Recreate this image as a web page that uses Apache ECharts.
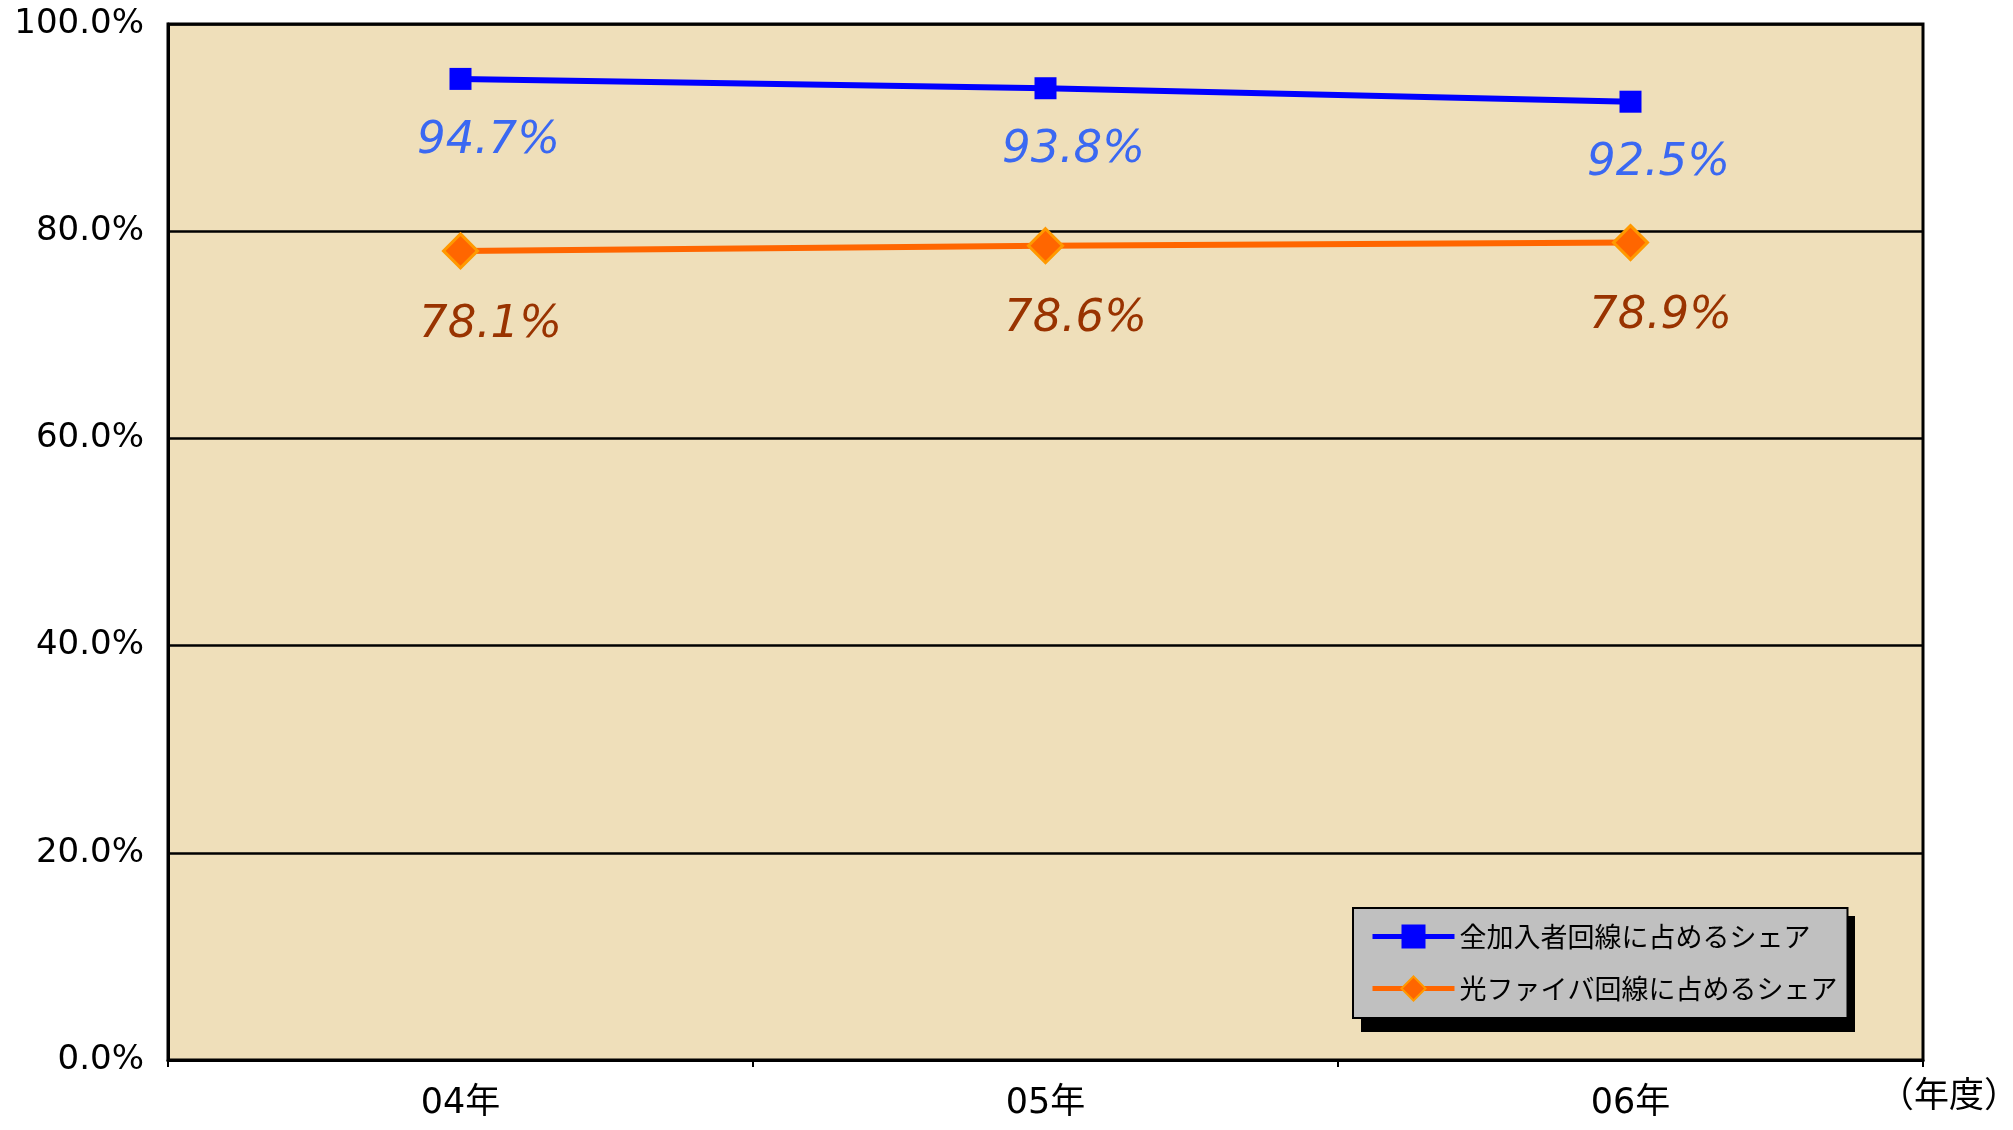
<!DOCTYPE html>
<html><head><meta charset="utf-8">
<script src="https://cdn.jsdelivr.net/npm/echarts@6/dist/echarts.min.js"></script>
<style>html,body{margin:0;padding:0;background:#fff}#c{width:2013px;height:1130px}</style>
</head><body><div id="c"></div>
<script>
const categories = ['04年', '05年', '06年'];
const seriesNames = ['全加入者回線に占めるシェア', '光ファイバ回線に占めるシェア'];
const shareAll = [94.7, 93.8, 92.5];
const shareFiber = [78.1, 78.6, 78.9];
const yTicks = [0, 20, 40, 60, 80, 100];

const chart = echarts.init(document.getElementById('c'));
const labelFont = 'DejaVu Sans, sans-serif';
chart.setOption({
  animation: false,
  backgroundColor: '#ffffff',
  grid: {left: 168, right: 90, top: 24, bottom: 70, show: true, containLabel: false,
         outerBoundsMode: 'none',
         backgroundColor: '#EFDFBA', borderColor: '#000', borderWidth: 3},
  graphic: [{
    type: 'rect', z: 1, silent: true,
    shape: {x: 1361, y: 916, width: 494, height: 116},
    style: {fill: '#000'}
  }],
  xAxis: {
    type: 'category', data: categories, boundaryGap: true,
    axisLine: {lineStyle: {color: '#000', width: 3}},
    axisTick: {show: true, length: 7, lineStyle: {color: '#000', width: 2}},
    axisLabel: {color: '#000', fontSize: 35, margin: 26, fontFamily: 'DejaVu Sans, Noto Sans CJK JP'},
    name: '（年度）', nameLocation: 'end', nameGap: -44,
    nameTextStyle: {color: '#000', fontSize: 35, fontFamily: 'Noto Sans CJK JP', align: 'left', verticalAlign: 'top', padding: [16, 0, 0, 0]}
  },
  yAxis: {
    type: 'value', min: yTicks[0], max: yTicks[yTicks.length - 1], interval: 20,
    axisLine: {show: true, lineStyle: {color: '#000', width: 3}},
    axisTick: {show: false},
    splitLine: {show: true, lineStyle: {color: '#000', width: 2.5}},
    axisLabel: {color: '#000', fontSize: 34, margin: 24, fontFamily: labelFont,
                formatter: v => v.toFixed(1) + '%'}
  },
  legend: {
    orient: 'vertical', left: 1353, top: 908, z: 5,
    padding: [15, 10, 16, 17], itemGap: 25, itemWidth: 82, itemHeight: 30,
    backgroundColor: '#C0C0C0', borderColor: '#000', borderWidth: 2,
    lineStyle: {width: 5},
    textStyle: {color: '#000', fontSize: 27, fontFamily: 'Noto Sans CJK JP', padding: [0, 0, 0, 0]},
    data: seriesNames
  },
  series: [
    {
      name: seriesNames[0], type: 'line', data: shareAll,
      symbol: 'rect', symbolSize: 22,
      lineStyle: {color: '#0000FF', width: 6},
      itemStyle: {color: '#0000FF'},
      label: {show: true, position: 'inside', offset: [28, 62],
              formatter: p => p.value.toFixed(1) + '%',
              color: '#3A68F2', fontSize: 45, fontStyle: 'italic', fontFamily: labelFont}
    },
    {
      name: seriesNames[1], type: 'line', data: shareFiber,
      symbol: 'diamond', symbolSize: 34,
      lineStyle: {color: '#FF6600', width: 6},
      itemStyle: {color: '#FF6600', borderColor: '#FF9900', borderWidth: 3},
      label: {show: true, position: 'inside', offset: [30, 74],
              formatter: p => p.value.toFixed(1) + '%',
              color: '#993300', fontSize: 45, fontStyle: 'italic', fontFamily: labelFont}
    }
  ]
});
</script></body></html>
